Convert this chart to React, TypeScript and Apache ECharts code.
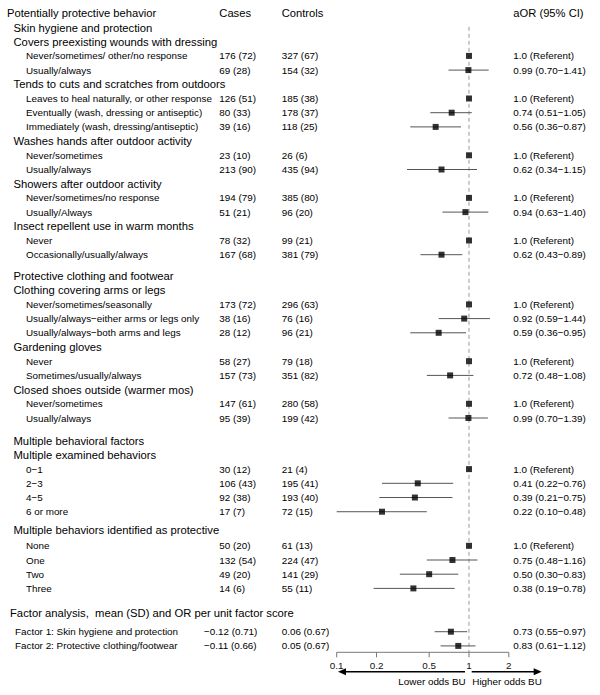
import React, { useEffect, useRef } from "react";
import * as echarts from "echarts";

const M = "\u2212";

// ---- Data ----
const rowLabels: string[] = [
  "Potentially protective behavior",
  "Skin hygiene and protection",
  "Covers preexisting wounds with dressing",
  "Never/sometimes/ other/no response",
  "Usually/always",
  "Tends to cuts and scratches from outdoors",
  "Leaves to heal naturally, or other response",
  "Eventually (wash, dressing or antiseptic)",
  "Immediately (wash, dressing/antiseptic)",
  "Washes hands after outdoor activity",
  "Never/sometimes",
  "Usually/always",
  "Showers after outdoor activity",
  "Never/sometimes/no response",
  "Usually/Always",
  "Insect repellent use in warm months",
  "Never",
  "Occasionally/usually/always",
  "Protective clothing and footwear",
  "Clothing covering arms or legs",
  "Never/sometimes/seasonally",
  `Usually/always${M}either arms or legs only`,
  `Usually/always${M}both arms and legs`,
  "Gardening gloves",
  "Never",
  "Sometimes/usually/always",
  "Closed shoes outside (warmer mos)",
  "Never/sometimes",
  "Usually/always",
  "Multiple behavioral factors",
  "Multiple examined behaviors",
  `0${M}1`,
  `2${M}3`,
  `4${M}5`,
  "6 or more",
  "Multiple behaviors identified as protective",
  "None",
  "One",
  "Two",
  "Three",
  "Factor analysis,  mean (SD) and OR per unit factor score",
  "Factor 1: Skin hygiene and protection",
  "Factor 2: Protective clothing/footwear",
];

// head | group | item | ftitle | fitem
const rowKinds: string[] = [
  "head", "group", "group", "item", "item", "group", "item", "item", "item",
  "group", "item", "item", "group", "item", "item", "group", "item", "item",
  "group", "group", "item", "item", "item", "group", "item", "item",
  "group", "item", "item", "group", "group", "item", "item", "item", "item",
  "group", "item", "item", "item", "item", "ftitle", "fitem", "fitem",
];

const headerCells: string[] = ["Cases", "Controls", "aOR (95% CI)"];

const casesText: string[] = [
  "", "", "", "176 (72)", "69 (28)", "", "126 (51)", "80 (33)", "39 (16)",
  "", "23 (10)", "213 (90)", "", "194 (79)", "51 (21)", "", "78 (32)", "167 (68)",
  "", "", "173 (72)", "38 (16)", "28 (12)", "", "58 (27)", "157 (73)",
  "", "147 (61)", "95 (39)", "", "", "30 (12)", "106 (43)", "92 (38)", "17 (7)",
  "", "50 (20)", "132 (54)", "49 (20)", "14 (6)", "", `${M}0.12 (0.71)`, `${M}0.11 (0.66)`,
];

const controlsText: string[] = [
  "", "", "", "327 (67)", "154 (32)", "", "185 (38)", "178 (37)", "118 (25)",
  "", "26 (6)", "435 (94)", "", "385 (80)", "96 (20)", "", "99 (21)", "381 (79)",
  "", "", "296 (63)", "76 (16)", "96 (21)", "", "79 (18)", "351 (82)",
  "", "280 (58)", "199 (42)", "", "", "21 (4)", "195 (41)", "193 (40)", "72 (15)",
  "", "61 (13)", "224 (47)", "141 (29)", "55 (11)", "", "0.06 (0.67)", "0.05 (0.67)",
];

// adjusted odds ratio; 1 with null CI = referent
const oddsRatio: (number | null)[] = [
  null, null, null, 1, 0.99, null, 1, 0.74, 0.56,
  null, 1, 0.62, null, 1, 0.94, null, 1, 0.62,
  null, null, 1, 0.92, 0.59, null, 1, 0.72,
  null, 1, 0.99, null, null, 1, 0.41, 0.39, 0.22,
  null, 1, 0.75, 0.5, 0.38, null, 0.73, 0.83,
];
const ciLower: (number | null)[] = [
  null, null, null, null, 0.7, null, null, 0.51, 0.36,
  null, null, 0.34, null, null, 0.63, null, null, 0.43,
  null, null, null, 0.59, 0.36, null, null, 0.48,
  null, null, 0.7, null, null, null, 0.22, 0.21, 0.1,
  null, null, 0.48, 0.3, 0.19, null, 0.55, 0.61,
];
const ciUpper: (number | null)[] = [
  null, null, null, null, 1.41, null, null, 1.05, 0.87,
  null, null, 1.15, null, null, 1.4, null, null, 0.89,
  null, null, null, 1.44, 0.95, null, null, 1.08,
  null, null, 1.39, null, null, null, 0.76, 0.75, 0.48,
  null, null, 1.16, 0.83, 0.78, null, 0.97, 1.12,
];

const tickValues: number[] = [0.1, 0.2, 0.5, 1, 2];
const directionLabels: string[] = ["Lower odds BU", "Higher odds BU"];

// ---- Layout (row positions in row units) ----
const rowY: number[] = [
  0, 1, 2, 3, 4, 5, 6, 7, 8, 9, 10, 11, 12, 13, 14, 15, 16, 17,
  18.5, 19.5, 20.5, 21.5, 22.5, 23.5, 24.5, 25.5, 26.5, 27.5, 28.5,
  30.1, 31.1, 32.1, 33.1, 34.1, 35.1,
  36.4, 37.5, 38.5, 39.5, 40.5,
  42.25, 43.55, 44.55,
];
const AXIS_ROW = 45;
const REF_TOP_ROW = 0.95;

const FONT = "'Liberation Sans', Arial, Helvetica, sans-serif";
const BIG = 11.25;
const SMALL = 9.85;

const labelX: Record<string, number> = { head: 7, group: 13.5, item: 26, ftitle: 10, fitem: 15 };
const labelSize: Record<string, number> = { head: 11.2, group: BIG, item: SMALL, ftitle: BIG, fitem: SMALL };
const CASES_X = 219.3;
const CONTROLS_X = 281.7;
const FACTOR_CASES_X = 204;
const AOR_X = 513.3;

function fmt2(v: number) {
  return v.toFixed(2);
}

function txt(x: number, y: number, text: string, size: number, align = "left", fill = "#000") {
  return {
    type: "text",
    x,
    y,
    style: {
      text,
      fill,
      fontSize: size,
      fontFamily: FONT,
      align,
      verticalAlign: "middle",
      textAlign: align,
      textVerticalAlign: "middle",
    },
  };
}

export default function App() {
  const ref = useRef<HTMLDivElement>(null);

  useEffect(() => {
    const el = ref.current;
    if (!el) return;
    const chart = echarts.init(el, null, { renderer: "svg" });

    const ciData: number[][] = [];
    const markerData: number[][] = [];
    rowY.forEach((y, i) => {
      const or = oddsRatio[i];
      if (or != null) markerData.push([or, y]);
      const lo = ciLower[i];
      const hi = ciUpper[i];
      if (lo != null && hi != null) ciData.push([lo, y, hi]);
    });

    const option: any = {
      animation: false,
      backgroundColor: "#fff",
      grid: { left: 336.7, top: 13.3, width: 172.1, height: 639 },
      xAxis: { type: "log", logBase: 10, min: 0.1, max: 2, show: false },
      yAxis: { type: "value", min: 0, max: AXIS_ROW, inverse: true, show: false },
      series: [
        {
          type: "custom",
          name: "reference",
          data: [[1, REF_TOP_ROW]],
          z: 1,
          renderItem: (params: any, api: any) => {
            const p0 = api.coord([1, REF_TOP_ROW]);
            const p1 = api.coord([1, AXIS_ROW]);
            return {
              type: "line",
              shape: { x1: p0[0], y1: p0[1], x2: p1[0], y2: p1[1] },
              style: { stroke: "#9a9a9a", lineWidth: 1, lineDash: [4, 3] },
            };
          },
        },
        {
          type: "custom",
          name: "ci",
          data: ciData,
          encode: { x: [0, 2], y: 1 },
          z: 2,
          renderItem: (params: any, api: any) => {
            const a = api.coord([api.value(0), api.value(1)]);
            const b = api.coord([api.value(2), api.value(1)]);
            return {
              type: "line",
              shape: { x1: a[0], y1: a[1], x2: b[0], y2: b[1] },
              style: { stroke: "#555", lineWidth: 1 },
            };
          },
        },
        {
          type: "scatter",
          name: "aOR",
          data: markerData,
          symbol: "rect",
          symbolSize: 6,
          itemStyle: { color: "#000" },
          z: 5,
        },
        {
          type: "custom",
          name: "table",
          data: rowY.map((y) => [1, y]),
          z: 3,
          renderItem: (params: any, api: any) => {
            const i = params.dataIndex;
            const y = api.coord([1, rowY[i]])[1];
            const kind = rowKinds[i];
            const children: any[] = [txt(labelX[kind], y, rowLabels[i], labelSize[kind])];
            if (kind === "head") {
              children.push(txt(CASES_X, y, headerCells[0], 11.2));
              children.push(txt(CONTROLS_X, y, headerCells[1], 11.2));
              children.push(txt(AOR_X, y, headerCells[2], 11.2));
            }
            if (casesText[i]) {
              children.push(txt(kind === "fitem" ? FACTOR_CASES_X : CASES_X, y, casesText[i], SMALL));
            }
            if (controlsText[i]) {
              children.push(txt(CONTROLS_X, y, controlsText[i], SMALL));
            }
            const or = oddsRatio[i];
            if (or != null) {
              const lo = ciLower[i];
              const hi = ciUpper[i];
              const s = lo == null || hi == null ? "1.0 (Referent)" : `${fmt2(or)} (${fmt2(lo)}${M}${fmt2(hi)})`;
              children.push(txt(AOR_X, y, s, SMALL));
            }
            return { type: "group", children };
          },
        },
        {
          type: "custom",
          name: "axis",
          data: [[1, AXIS_ROW]],
          z: 4,
          renderItem: (params: any, api: any) => {
            const y = api.coord([1, AXIS_ROW])[1];
            const xs = tickValues.map((v) => api.coord([v, AXIS_ROW])[0]);
            const xMin = xs[0];
            const xMax = xs[xs.length - 1];
            const xOne = api.coord([1, AXIS_ROW])[0];
            const children: any[] = [];
            children.push({
              type: "line",
              shape: { x1: xMin, y1: y, x2: xMax, y2: y },
              style: { stroke: "#777", lineWidth: 1 },
            });
            tickValues.forEach((v, k) => {
              children.push({
                type: "line",
                shape: { x1: xs[k], y1: y, x2: xs[k], y2: y + 5 },
                style: { stroke: "#777", lineWidth: 1 },
              });
              children.push(txt(xs[k], y + 13, String(v), SMALL, "center", "#111"));
            });
            const ay = y + 19.4;
            const lTip = xMin + 1.3;
            const lTail = xOne - 4;
            const rTail = xOne + 2.7;
            const rTip = xOne + 72.7;
            const head = 8;
            const hw = 3.5;
            children.push({
              type: "line",
              shape: { x1: lTail, y1: ay, x2: lTip + head - 1, y2: ay },
              style: { stroke: "#000", lineWidth: 1.4 },
            });
            children.push({
              type: "polygon",
              shape: { points: [[lTip, ay], [lTip + head, ay - hw], [lTip + head, ay + hw]] },
              style: { fill: "#000" },
            });
            children.push({
              type: "line",
              shape: { x1: rTail, y1: ay, x2: rTip - head + 1, y2: ay },
              style: { stroke: "#000", lineWidth: 1.4 },
            });
            children.push({
              type: "polygon",
              shape: { points: [[rTip, ay], [rTip - head, ay - hw], [rTip - head, ay + hw]] },
              style: { fill: "#000" },
            });
            children.push(txt(xOne - 3.3, y + 29.4, directionLabels[0], SMALL, "right"));
            children.push(txt(xOne + 3.3, y + 29.4, directionLabels[1], SMALL, "left"));
            return { type: "group", children };
          },
        },
      ],
    };

    chart.setOption(option);
    return () => chart.dispose();
  }, []);

  return (
    <div
      ref={ref}
      style={{ position: "absolute", left: 0, top: 0, width: 600, height: 695, background: "#fff" }}
    />
  );
}
